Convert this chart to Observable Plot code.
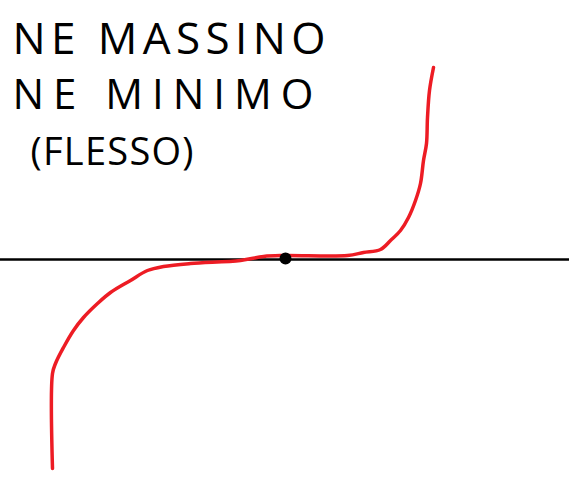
<!DOCTYPE html>
<html>
<head>
<meta charset="utf-8">
<script src="https://cdn.jsdelivr.net/npm/d3@7"></script>
<script src="https://cdn.jsdelivr.net/npm/@observablehq/plot@0.6"></script>
<style>
  body { margin: 0; background: #ffffff; }
  #chart svg { display: block; }
</style>
</head>
<body>
<div id="chart"></div>
<script>
// curve drawn around the inflection point (origin = the black dot)
const curveX = [-233, -233, -230, -222, -212, -202, -188, -175, -155, -138, -122, -95, -45, -22, -2, 62, 78, 95, 105, 115, 123, 130, 135, 138, 141, 142, 144, 148]
const curveY = [-209, -114, -104, -88, -71, -58, -44, -33, -21, -11, -7, -4, -1, 3, 4, 4, 7, 10, 19, 29, 42, 59, 76, 99, 116, 142, 169, 192]
const flessoX = [0]
const flessoY = [1]
const labels = ["NE MASSINO", "NE MINIMO", "(FLESSO)"]

const curve = curveX.map((x, i) => ({x, y: curveY[i]}))
const flesso = flessoX.map((x, i) => ({x, y: flessoY[i]}))

const font = "Open Sans"

let chart = Plot.plot({
  width: 569,
  height: 496,
  marginTop: 0,
  marginRight: 0,
  marginBottom: 0,
  marginLeft: 0,
  x: {domain: [-285, 284], axis: null},
  y: {domain: [-237, 259], axis: null},
  marks: [
    Plot.ruleY([0], {stroke: "#000000", strokeWidth: 2.5}),
    Plot.line(curve, {x: "x", y: "y", stroke: "#ed1c24", strokeWidth: 3.5, curve: "catmull-rom"}),
    Plot.dot(flesso, {x: "x", y: "y", r: 6, fill: "#000000", stroke: "none"}),
    Plot.text([labels[0]], {frameAnchor: "top-left", textAnchor: "start", lineAnchor: "top", dx: 12, dy: 22, fontSize: 44, fontWeight: 500, fill: "#000000"}),
    Plot.text([labels[1]], {frameAnchor: "top-left", textAnchor: "start", lineAnchor: "top", dx: 12, dy: 79, fontSize: 42, fontWeight: 500, fill: "#000000"}),
    Plot.text([labels[2]], {frameAnchor: "top-left", textAnchor: "start", lineAnchor: "top", dx: 30, dy: 138, fontSize: 38, fontWeight: 500, fill: "#000000"})
  ],
  style: {
    background: "#ffffff",
    fontFamily: font
  }
})

// stretch the hand lettering to the widths in the drawing
const widths = [313, 301, 163]
d3.select(chart).selectAll("g[aria-label=text] text")
  .each(function(d, i) {
    d3.select(this).attr("textLength", widths[i]).attr("lengthAdjust", "spacing")
  })

d3.select("#chart").append(() => chart)
</script>
</body>
</html>
